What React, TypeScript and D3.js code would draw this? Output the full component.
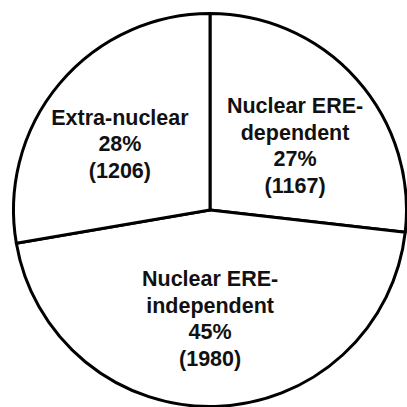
import React from "react";
import * as d3 from "d3";

const categories = ["Nuclear ERE-dependent", "Nuclear ERE-independent", "Extra-nuclear"];
const counts = [1167, 1980, 1206];
const percents = ["27%", "45%", "28%"];
const nameLines = [["Nuclear ERE-", "dependent"], ["Nuclear ERE-", "independent"], ["Extra-nuclear"]];

const W = 407;
const H = 407;
const cx = 210;
const cy = 210;
const R = 196.5;
const fontSize = 21.5;
const lineH = 26.5;
const labelOffsets: [number, number][] = [[3, 9], [-3, -1], [-6, 5]];

export default function App() {
  const pie = d3.pie<number>().sort(null).value((d) => d);
  const arcs = pie(counts);
  const arc = d3.arc<d3.PieArcDatum<number>>().innerRadius(0).outerRadius(R);
  const labelArc = d3.arc<d3.PieArcDatum<number>>().innerRadius(110).outerRadius(110);

  return (
    <svg width={W} height={H} style={{ position: "absolute", left: 0, top: 0, background: "#fff" }}>
      <g transform={`translate(${cx},${cy})`}>
        {arcs.map((a, i) => (
          <path key={categories[i]} d={arc(a) || ""} fill="#fff" stroke="#000" strokeWidth={3} strokeLinejoin="round" />
        ))}
        {arcs.map((a, i) => {
          const [lx, ly] = labelArc.centroid(a);
          const lines = [...nameLines[i], percents[i], `(${counts[i]})`];
          const n = lines.length;
          const x = lx + labelOffsets[i][0];
          const y0 = ly - ((n - 1) * lineH) / 2 + 7 + labelOffsets[i][1];
          return (
            <text key={"t" + i} textAnchor="middle" fontFamily="'Liberation Sans', Arial, sans-serif" fontWeight="bold" fontSize={fontSize} fill="#111">
              {lines.map((l, j) => (
                <tspan key={j} x={x} y={y0 + j * lineH}>{l}</tspan>
              ))}
            </text>
          );
        })}
      </g>
    </svg>
  );
}
